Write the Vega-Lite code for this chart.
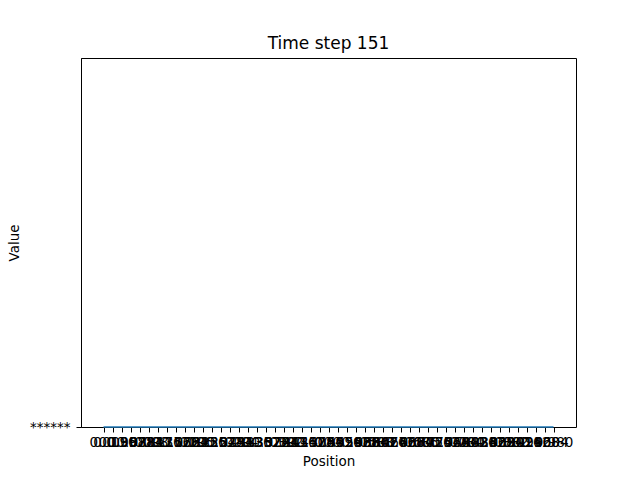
{
  "$schema": "https://vega.github.io/schema/vega-lite/v6.json",
  "width": 495,
  "height": 369,
  "autosize": {"type": "none"},
  "padding": {"left": 81, "top": 58, "right": 64, "bottom": 53},
  "background": "white",
  "title": {"text": "Time step 151", "fontSize": 17, "font": "DejaVu Sans", "fontWeight": "normal", "color": "black", "offset": 5},
  "data": {"values": [
    {"pos": "0.0", "value": 0}, {"pos": "0.0196", "value": 0}, {"pos": "0.0392", "value": 0}, {"pos": "0.0588", "value": 0},
    {"pos": "0.0784", "value": 0}, {"pos": "0.098", "value": 0}, {"pos": "0.1176", "value": 0}, {"pos": "0.1372", "value": 0},
    {"pos": "0.1568", "value": 0}, {"pos": "0.1764", "value": 0}, {"pos": "0.196", "value": 0}, {"pos": "0.2156", "value": 0},
    {"pos": "0.2352", "value": 0}, {"pos": "0.2548", "value": 0}, {"pos": "0.2744", "value": 0}, {"pos": "0.294", "value": 0},
    {"pos": "0.3136", "value": 0}, {"pos": "0.3332", "value": 0}, {"pos": "0.3528", "value": 0}, {"pos": "0.3724", "value": 0},
    {"pos": "0.392", "value": 0}, {"pos": "0.4116", "value": 0}, {"pos": "0.4312", "value": 0}, {"pos": "0.4508", "value": 0},
    {"pos": "0.4704", "value": 0}, {"pos": "0.49", "value": 0}, {"pos": "0.5096", "value": 0}, {"pos": "0.5292", "value": 0},
    {"pos": "0.5488", "value": 0}, {"pos": "0.5684", "value": 0}, {"pos": "0.588", "value": 0}, {"pos": "0.6076", "value": 0},
    {"pos": "0.6272", "value": 0}, {"pos": "0.6468", "value": 0}, {"pos": "0.6664", "value": 0}, {"pos": "0.686", "value": 0},
    {"pos": "0.7056", "value": 0}, {"pos": "0.7252", "value": 0}, {"pos": "0.7448", "value": 0}, {"pos": "0.7644", "value": 0},
    {"pos": "0.784", "value": 0}, {"pos": "0.8036", "value": 0}, {"pos": "0.8232", "value": 0}, {"pos": "0.8428", "value": 0},
    {"pos": "0.8624", "value": 0}, {"pos": "0.882", "value": 0}, {"pos": "0.9016", "value": 0}, {"pos": "0.9212", "value": 0},
    {"pos": "0.9408", "value": 0}, {"pos": "0.9604", "value": 0}, {"pos": "0.980", "value": 0}
  ]},
  "mark": {"type": "line", "color": "#1f77b4", "strokeWidth": 1.5, "clip": false},
  "encoding": {
    "x": {
      "field": "pos", "type": "ordinal", "sort": null,
      "scale": {"type": "point", "padding": 0, "range": [22.5, 472.5]},
      "axis": {"title": "Position", "labelAngle": 0, "labelOverlap": false, "labelBound": false, "titlePadding": 6}
    },
    "y": {
      "field": "value", "type": "quantitative",
      "scale": {"domain": [0, 1], "nice": false, "zero": false},
      "axis": {"title": "Value", "values": [0], "labelExpr": "'******'", "labelPadding": 6, "titlePadding": 8}
    }
  },
  "config": {
    "view": {"stroke": "black", "strokeWidth": 1},
    "axis": {
      "grid": false,
      "domain": true, "domainColor": "black", "domainWidth": 1,
      "ticks": true, "tickColor": "black", "tickSize": 5, "tickWidth": 1,
      "labelFont": "DejaVu Sans", "labelFontSize": 13.5, "labelColor": "black", "labelPadding": 3,
      "titleFont": "DejaVu Sans", "titleFontSize": 13.5, "titleFontWeight": "normal", "titleColor": "black"
    }
  }
}
